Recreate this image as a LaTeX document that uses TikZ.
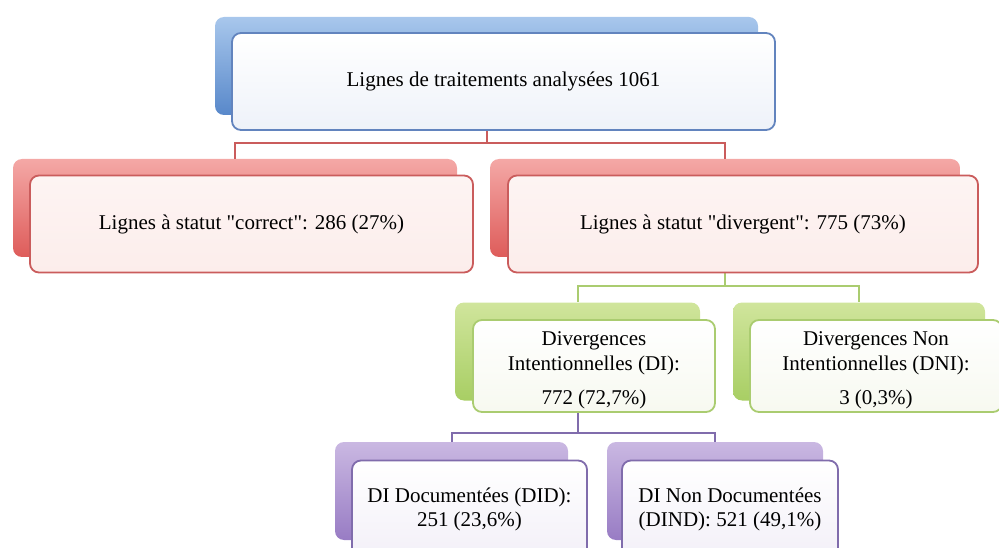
\documentclass[tikz,border=0pt]{standalone}
\usepackage{fontspec}
\setmainfont{Liberation Serif}
\usepackage{tikz}
\definecolor{blueL}{RGB}{168,199,236}
\definecolor{blueD}{RGB}{88,136,202}
\definecolor{blueE}{RGB}{98,132,190}
\definecolor{blueF}{RGB}{238,242,249}
\definecolor{redL}{RGB}{244,168,166}
\definecolor{redD}{RGB}{222,92,90}
\definecolor{redE}{RGB}{202,92,92}
\definecolor{redF}{RGB}{252,237,235}
\definecolor{greenL}{RGB}{208,229,156}
\definecolor{greenD}{RGB}{168,206,100}
\definecolor{greenE}{RGB}{170,204,112}
\definecolor{greenF}{RGB}{247,249,240}
\definecolor{purpL}{RGB}{202,184,226}
\definecolor{purpD}{RGB}{152,124,196}
\definecolor{purpE}{RGB}{128,108,172}
\definecolor{purpF}{RGB}{243,240,248}
\tikzset{
  px/.style={x=1pt, y=-1pt},
  bbox/.style={rounded corners=9pt, inner sep=0pt, minimum height=98pt},   % coloured box behind
  fbox/.style={rounded corners=9pt, inner sep=2pt, minimum height=97pt, line width=1.8pt,
               align=center, font=\fontsize{21}{24}\selectfont},             % white box in front
  blueback/.style={bbox, top color=blueL, bottom color=blueD},
  redback/.style={bbox, top color=redL, bottom color=redD},
  greenback/.style={bbox, top color=greenL, bottom color=greenD},
  purpback/.style={bbox, top color=purpL, bottom color=purpD},
  bluefront/.style={fbox, draw=blueE, top color=white, bottom color=blueF},
  redfront/.style={fbox, draw=redE, top color=redF!60, bottom color=redF},
  greenfront/.style={fbox, draw=greenE, top color=white, bottom color=greenF},
  purpfront/.style={fbox, draw=purpE, top color=white, bottom color=purpF},
  redline/.style={draw=redE, line width=2pt},
  greenline/.style={draw=greenE, line width=2pt},
  purpline/.style={draw=purpE, line width=2pt},
}

\begin{document}
\begin{tikzpicture}[px]
  \useasboundingbox (0,0) rectangle (999,548);

  % --- coloured boxes behind ---
  \node[blueback, minimum width=543pt] (topb) at (486.5,66) {};
  \node[redback, minimum width=444pt] (corrb) at (235,208) {};
  \node[redback, minimum width=470pt] (divb) at (725,208) {};
  \node[greenback, minimum width=245pt] (dib) at (577.5,351.5) {};
  \node[greenback, minimum width=252pt] (dnib) at (859,351.5) {};
  \node[purpback, minimum width=233pt] (didb) at (451.5,491) {};
  \node[purpback, minimum width=216pt] (dindb) at (715,491) {};

  % --- connectors (back box to back box) ---
  \draw[redline] (topb.south) -- ++(0,28) -| (corrb.north);
  \draw[redline] (topb.south) -- ++(0,28) -| (divb.north);
  \draw[greenline] (divb.south) -- ++(0,29) -| (dib.north);
  \draw[greenline] (divb.south) -- ++(0,29) -| (dnib.north);
  \draw[purpline] (dib.south) -- ++(0,32) -| (didb.north);
  \draw[purpline] (dib.south) -- ++(0,32) -| (dindb.north);

  % --- front boxes with the texts ---
  \node[bluefront, minimum width=543pt] (top) at (503.5,81.5) {Lignes de traitements analysées 1061};
  \node[redfront, minimum width=443pt] (corr) at (251.5,224)
    {Lignes à statut \textquotedbl correct\textquotedbl: 286 (27\%)};
  \node[redfront, minimum width=470pt] (div) at (743,224)
    {Lignes à statut \textquotedbl divergent\textquotedbl: 775 (73\%)};
  \node[greenfront, minimum width=242pt, minimum height=92pt] (di) at (594,366)
    {\raisebox{-4pt}[\height][\depth]{\begin{tabular}{@{}c@{}}Divergences\\[1pt]Intentionnelles (DI):\\[10pt]772 (72,7\%)\end{tabular}}};
  \node[greenfront, minimum width=252pt, minimum height=92pt] (dni) at (876,366)
    {\raisebox{-4pt}[\height][\depth]{\begin{tabular}{@{}c@{}}Divergences Non\\[1pt]Intentionnelles (DNI):\\[10pt]3 (0,3\%)\end{tabular}}};
  \node[purpfront, minimum width=235pt] (did) at (469.5,509) {DI Documentées (DID):\\251 (23,6\%)};
  \node[purpfront, minimum width=216pt] (dind) at (730,509) {DI Non Documentées\\(DIND): 521 (49,1\%)};
\end{tikzpicture}
\end{document}
